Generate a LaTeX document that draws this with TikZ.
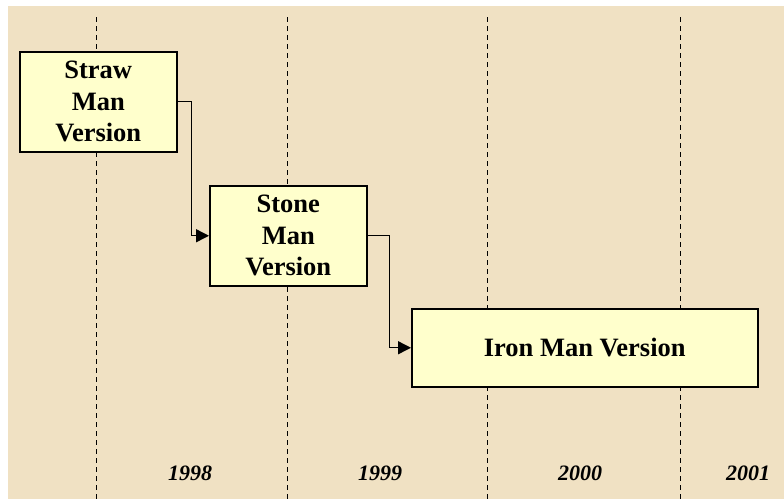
\documentclass[tikz,border=0pt]{standalone}
\usepackage{fontspec}
\setmainfont{Liberation Serif}
\usetikzlibrary{arrows.meta}
\definecolor{parch}{RGB}{240,225,195}
\definecolor{boxfill}{RGB}{255,255,204}
\begin{document}
\begin{tikzpicture}[x=1pt,y=-1pt,
  verbox/.style={draw=black,line width=1.5pt,fill=boxfill,inner sep=0pt,anchor=north west,
    align=center,font=\fontsize{26.5}{31.5}\selectfont\bfseries},
  yearlbl/.style={font=\fontsize{22}{26}\selectfont\bfseries\itshape,inner sep=0pt},
  grid/.style={line width=1pt,dash pattern=on 5pt off 4pt},
  link/.style={line width=1.4pt,-{Triangle[length=13pt,width=13pt]}}]
\useasboundingbox (0,0) rectangle (784,499);
\fill[white] (0,0) rectangle (784,499);
\fill[parch] (8,6) rectangle (784,499);
% dashed year separators
\foreach \x/\n in {96/g1,287/g2,487/g3,680/g4}{
  \coordinate (\n t) at (\x,17);
  \coordinate (\n b) at (\x,499);
  \draw[grid] (\n t) -- (\n b);
}
% boxes
\node[verbox,minimum width=157pt,minimum height=100pt] (straw) at (19,51) {Straw\\Man\\Version};
\node[verbox,minimum width=157pt,minimum height=100pt] (stone) at (209,185) {Stone\\Man\\Version};
\node[verbox,minimum width=346pt,minimum height=78pt] (iron) at (411,308) {Iron Man Version};
% connectors
\draw[link] (straw.east) -- ([xshift=14pt]straw.east) |- (stone.west);
\draw[link] (stone.east) -- ([xshift=22pt]stone.east) |- (iron.west);
% years
\node[yearlbl] (y1998) at (190,473) {1998};
\node[yearlbl] (y1999) at (380,473) {1999};
\node[yearlbl] (y2000) at (580,473) {2000};
\node[yearlbl] (y2001) at (748,473) {2001};
\end{tikzpicture}
\end{document}
